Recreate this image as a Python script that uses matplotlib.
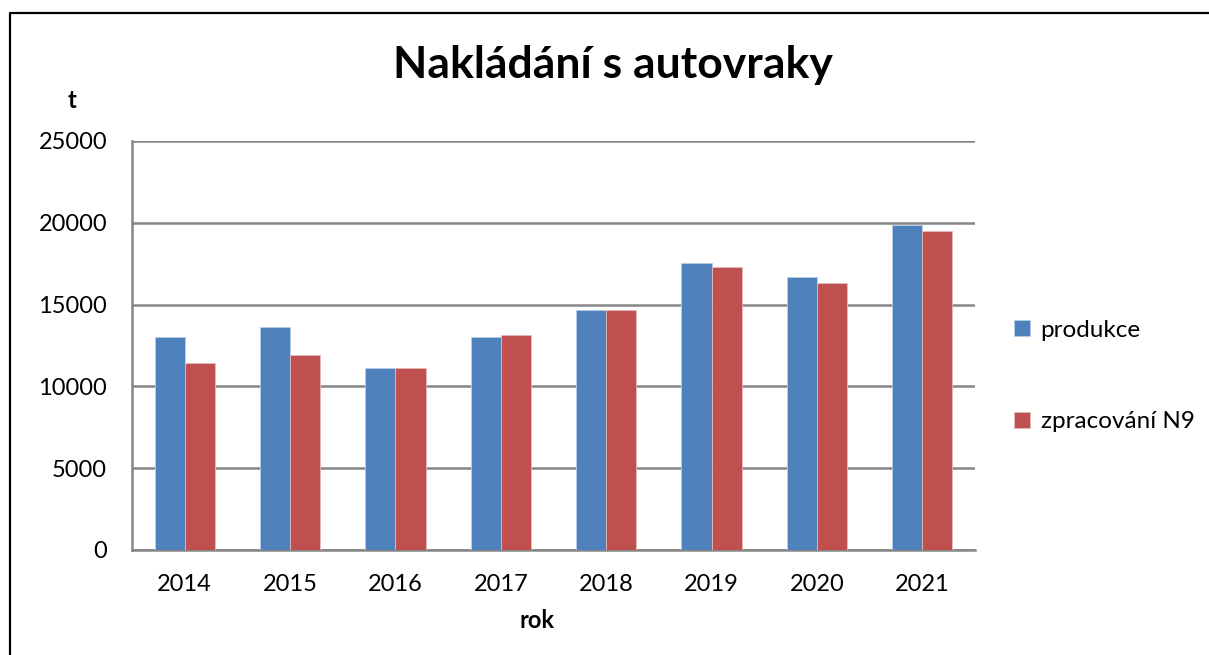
import matplotlib
matplotlib.use("Agg")
import matplotlib.pyplot as plt
import numpy as np
from matplotlib.lines import Line2D

# data
years = ["2014", "2015", "2016", "2017", "2018", "2019", "2020", "2021"]
produkce = [13000, 13650, 11150, 13050, 14680, 17540, 16710, 19860]
zpracovani = [11400, 11930, 11100, 13150, 14640, 17300, 16340, 19510]
series_names = ["produkce", "zpracování N9"]

plt.rcParams['font.family'] = ['Lato', 'DejaVu Sans']

W, H = 1209, 655
fig = plt.figure(figsize=(W / 100, H / 100), dpi=100)
fig.patch.set_facecolor("white")

# axes box in pixel coordinates of the reference
left, right, top, bottom = 132, 975, 141, 550
ax = fig.add_axes([left / W, 1 - bottom / H, (right - left) / W, (bottom - top) / H])

x = np.arange(len(years))
bw = 0.2857
ax.bar(x - bw / 2, produkce, bw, color="#4F81BD", edgecolor="#B9CDE5", linewidth=0.6,
       label=series_names[0], zorder=3)
ax.bar(x + bw / 2, zpracovani, bw, color="#C0504D", edgecolor="#E6B9B8", linewidth=0.6,
       label=series_names[1], zorder=3)

ax.set_xlim(-0.5, len(years) - 0.5)
ax.set_ylim(0, 25000)
ax.set_yticks(range(0, 25001, 5000))
ax.set_xticks(x)
ax.set_xticklabels(years)
ax.tick_params(axis="both", length=0, labelsize=17, colors="black")
ax.tick_params(axis="y", pad=18)
ax.tick_params(axis="x", pad=17)

ax.yaxis.grid(True, color="#868686", linewidth=1.8, zorder=0)
ax.set_axisbelow(True)
for s in ["top", "right"]:
    ax.spines[s].set_visible(False)
for s in ["left", "bottom"]:
    ax.spines[s].set_color("#868686")
    ax.spines[s].set_linewidth(1.8)

# title and axis names
fig.text(613 / W, 1 - 65 / H, "Nakládání s autovraky", ha="center", va="center",
         fontsize=32, fontweight="bold")
fig.text(72 / W, 1 - 100 / H, "t", ha="center", va="center", fontsize=17, fontweight="bold")
fig.text(537 / W, 1 - 620 / H, "rok", ha="center", va="center", fontsize=17, fontweight="bold")

# legend
leg = fig.legend(loc="upper left", bbox_to_anchor=(992 / W, 1 - 298 / H), frameon=False,
                 fontsize=17.5, handlelength=0.65, handleheight=0.65, handletextpad=0.45,
                 labelspacing=2.9)

# outer chart frame (only the top and left edges are inside the crop)
fig.add_artist(Line2D([10 / W, 10 / W, 1.0], [0.0, 1 - 12.5 / H, 1 - 12.5 / H],
                      transform=fig.transFigure, color="black", linewidth=1.6))

fig.savefig("out.png", dpi=100)
